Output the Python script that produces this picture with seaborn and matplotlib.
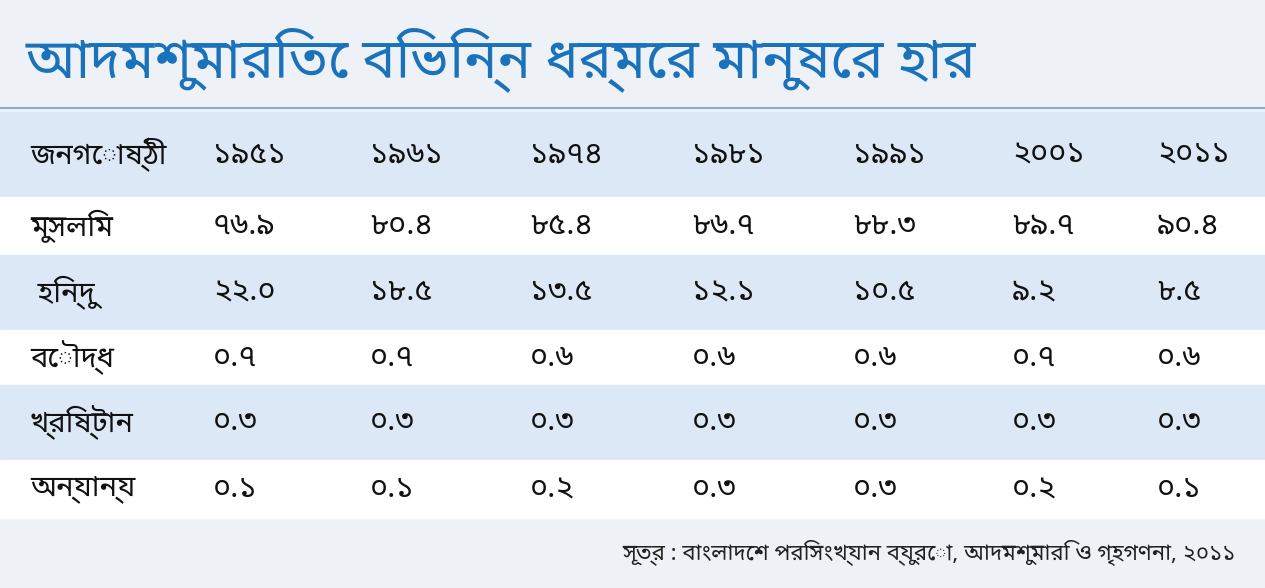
import matplotlib
matplotlib.use("Agg")
import matplotlib.pyplot as plt
import seaborn as sns
from matplotlib import font_manager

title = "আদমশুমারিতে বিভিন্ন ধর্মের মানুষের হার"
header_label = "জনগোষ্ঠী"
years = ["১৯৫১", "১৯৬১", "১৯৭৪", "১৯৮১", "১৯৯১", "২০০১", "২০১১"]
groups = ["মুসলিম", " হিন্দু", "বৌদ্ধ", "খ্রিষ্টান", "অন্যান্য"]
muslim = [76.9, 80.4, 85.4, 86.7, 88.3, 89.7, 90.4]
hindu = [22.0, 18.5, 13.5, 12.1, 10.5, 9.2, 8.5]
buddhist = [0.7, 0.7, 0.6, 0.6, 0.6, 0.7, 0.6]
christian = [0.3, 0.3, 0.3, 0.3, 0.3, 0.3, 0.3]
others = [0.1, 0.1, 0.2, 0.3, 0.3, 0.2, 0.1]
source = "সূত্র : বাংলাদেশ পরিসংখ্যান ব্যুরো, আদমশুমারি ও গৃহগণনা, ২০১১"

series = [muslim, hindu, buddhist, christian, others]
bn = str.maketrans("0123456789", "০১২৩৪৫৬৭৮৯")
def to_bn(v):
    return f"{v:.1f}".translate(bn)

names = {f.name for f in font_manager.fontManager.ttflist}
fam = [f for f in ["Noto Sans Bengali", "Noto Serif Bengali", "Lohit Bengali",
                   "FreeSans", "Noto Sans", "DejaVu Sans"] if f in names] or ["DejaVu Sans"]

sns.set_theme(style="white", rc={"font.family": fam})

fig = plt.figure(figsize=(12.65, 5.88), dpi=100)
ax = fig.add_axes([0, 0, 1, 1])
ax.set_xlim(0, 1265)
ax.set_ylim(588, 0)
ax.axis("off")

bg = "#eef2f7"
band = "#dce8f5"
white = "#ffffff"
ax.axhspan(0, 588, color=bg)
ax.axhline(108, color="#7fb0dc", lw=1.5)
ax.text(26, 60, title, fontsize=40, color="#1a72bb", fontweight="heavy", va="center")

rows = [(112, 197, band), (197, 255, white), (255, 330, band),
        (330, 385, white), (385, 460, band), (460, 518, white)]
for y0, y1, c in rows:
    ax.axhspan(y0, y1, color=c)

col_x = [213, 370, 530, 692, 853, 1012, 1157]
hy = (112 + 197) / 2
ax.text(30, hy, header_label, fontsize=21, fontweight="bold", va="center", color="#111")
for x, y in zip(col_x, years):
    ax.text(x, hy, y, fontsize=22, fontweight="bold", va="center", color="#111")

for (y0, y1, _), g, vals in zip(rows[1:], groups, series):
    yc = (y0 + y1) / 2
    ax.text(30, yc, g, fontsize=21, va="center", color="#111")
    for x, v in zip(col_x, vals):
        ax.text(x, yc, to_bn(v), fontsize=22, va="center", color="#111")

ax.text(1235, 553, source, fontsize=16, va="center", ha="right", color="#222")

fig.savefig("out.png", dpi=100)
